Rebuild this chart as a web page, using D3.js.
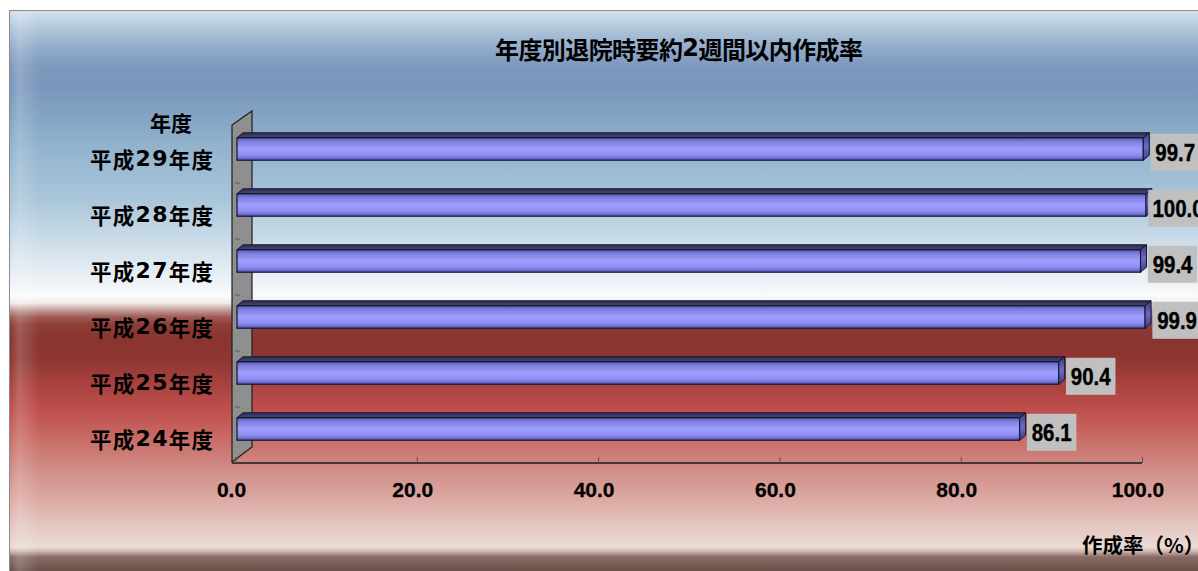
<!DOCTYPE html>
<html>
<head>
<meta charset="utf-8">
<script src="https://cdn.jsdelivr.net/npm/d3@7/dist/d3.min.js"></script>
<style>
html,body{margin:0;padding:0;background:#ffffff;}
svg{display:block;}
</style>
</head>
<body>
<svg id="chart" width="1198" height="571"></svg>
<script>
// ---- data ----
const categories = ["平成29年度","平成28年度","平成27年度","平成26年度","平成25年度","平成24年度"];
const values = [99.7, 100.0, 99.4, 99.9, 90.4, 86.1];
const xTicks = [0, 20, 40, 60, 80, 100];
const titleText = "年度別退院時要約2週間以内作成率";
const yAxisTitle = "年度";
const xAxisTitle = "作成率（%）";

const W = 1198, H = 571;
const svg = d3.select("#chart");
const defs = svg.append("defs");

// background gradient
const bgStops = [
  [10,"#d4e2ee"],[20,"#c0d4e4"],[33,"#a8c0d6"],[50,"#8fa9c9"],[67,"#7e98bc"],[87,"#7a96bc"],
  [117,"#84a4c4"],[150,"#94b4ce"],[200,"#aac6da"],[233,"#c5d8e6"],[265,"#e0eaf2"],[283,"#eef3f7"],
  [296,"#fafbfc"],[303,"#f2ecea"],[309,"#c8a8a4"],[317,"#a05a54"],[325,"#8e3c36"],[340,"#8a3430"],
  [360,"#8e3632"],[383,"#a8413e"],[410,"#bf4f4d"],[437,"#c86a64"],[467,"#d08a84"],[500,"#dcaaa4"],
  [523,"#e4c4be"],[540,"#e8d4ce"],[547,"#ecdcd6"],[551,"#d0bab4"],[557,"#8a6a64"],[571,"#6a5048"]
];
const bg = defs.append("linearGradient").attr("id","bg").attr("gradientUnits","userSpaceOnUse")
  .attr("x1",0).attr("y1",10).attr("x2",0).attr("y2",571);
bgStops.forEach(s => bg.append("stop").attr("offset",((s[0]-10)/561)).attr("stop-color",s[1]));

const edge = defs.append("linearGradient").attr("id","edge").attr("x1",0).attr("x2",1).attr("y1",0).attr("y2",0);
edge.append("stop").attr("offset",0).attr("stop-color","#ffffff").attr("stop-opacity",0.0);
edge.append("stop").attr("offset",0.3).attr("stop-color","#ffffff").attr("stop-opacity",0.18);
edge.append("stop").attr("offset",1).attr("stop-color","#ffffff").attr("stop-opacity",0);

const front = defs.append("linearGradient").attr("id","front").attr("x1",0).attr("x2",0).attr("y1",0).attr("y2",1);
[[0,"#5a5ab4"],[0.18,"#8080e0"],[0.5,"#a0a0ff"],[0.8,"#8a8af0"],[1,"#5454b0"]].forEach(s =>
  front.append("stop").attr("offset",s[0]).attr("stop-color",s[1]));
const topG = defs.append("linearGradient").attr("id","topface").attr("x1",0).attr("x2",0).attr("y1",0).attr("y2",1);
[[0,"#2e2e58"],[1,"#46467e"]].forEach(s => topG.append("stop").attr("offset",s[0]).attr("stop-color",s[1]));
const endG = defs.append("linearGradient").attr("id","endface").attr("x1",0).attr("x2",0).attr("y1",0).attr("y2",1);
[[0,"#3c3c80"],[0.5,"#6a6ac8"],[1,"#3c3c80"]].forEach(s => endG.append("stop").attr("offset",s[0]).attr("stop-color",s[1]));

svg.append("rect").attr("x",9.5).attr("y",10.5).attr("width",1200).attr("height",580)
  .attr("fill","url(#bg)").attr("stroke","#8a8a8a").attr("stroke-width",1);
svg.append("rect").attr("x",10).attr("y",11).attr("width",30).attr("height",560).attr("fill","url(#edge)");

// ---- scales ----
const yBand = d3.scaleBand().domain(categories).range([121, 457]).paddingInner(0.6).paddingOuter(0.3);
const xBar = d3.scaleLinear().domain([0, 100]).range([237, 1146]);
const xAxisScale = d3.scaleLinear().domain([0, 100]).range([235.5, 1142]);
const floorY = 463;
const wallDx = 20, wallDy = -15;
const dDx = 6, dDy = -5;

// side wall
const wallX = 232;
svg.append("path")
  .attr("d", `M${wallX},${floorY-1} L${wallX},125 L${wallX+wallDx},111 L${wallX+wallDx},${floorY-1+wallDy} Z`)
  .attr("fill","#8f8f8f").attr("stroke","#1e1e1e").attr("stroke-width",1.2);
const bounds = categories.map(c => yBand(c) - yBand.step()*yBand.paddingInner()/2);
svg.append("g").selectAll("line").data(bounds.slice(1)).join("line")
  .attr("x1", wallX+3).attr("x2", wallX+8)
  .attr("y1", d => d + 6).attr("y2", d => d + 6)
  .attr("stroke","#5a5a5a").attr("stroke-width",1);

// floor line
svg.append("line").attr("x1",wallX).attr("x2",xAxisScale(100)).attr("y1",floorY).attr("y2",floorY)
  .attr("stroke","#1a1a1a").attr("stroke-width",1.5);

// x axis (ticks + labels)
const axis = d3.axisBottom(xAxisScale).tickValues(xTicks).tickFormat(d3.format(".1f")).tickSize(-6).tickPadding(19);
const axG = svg.append("g").attr("transform",`translate(0,${floorY})`).call(axis);
axG.select(".domain").remove();
axG.selectAll(".tick line").attr("stroke","#555555").attr("stroke-width",1);
axG.selectAll(".tick text")
  .attr("font-family","'Liberation Sans', Arial, sans-serif").attr("font-weight","bold")
  .attr("font-size",21).attr("fill","#000").attr("dx",-4.5)
  .attr("stroke","#000").attr("stroke-width",0.3);

// bars
const bh = yBand.bandwidth();
const barG = svg.append("g").selectAll("g").data(categories.map((c,i)=>({c, v: values[i]}))).join("g");
barG.append("path")
  .attr("d", d => { const x0=xBar(0), x1=xBar(d.v), y0=yBand(d.c);
    return `M${x0},${y0} L${x0+dDx},${y0+dDy} L${x1+dDx},${y0+dDy} L${x1},${y0} Z`; })
  .attr("fill","url(#topface)").attr("stroke","#141428").attr("stroke-width",1);
barG.append("rect")
  .attr("x", xBar(0)).attr("y", d => yBand(d.c))
  .attr("width", d => xBar(d.v) - xBar(0)).attr("height", bh)
  .attr("fill","url(#front)").attr("stroke","#141428").attr("stroke-width",1.2);
barG.append("path")
  .attr("d", d => { const x1=xBar(d.v), y0=yBand(d.c);
    return `M${x1},${y0} L${x1+dDx},${y0+dDy} L${x1+dDx},${y0+bh+dDy} L${x1},${y0+bh} Z`; })
  .attr("fill","url(#endface)").attr("stroke","#141428").attr("stroke-width",1);

// data labels
const lblFS = 23;
const lblG = barG.append("g");
const lblText = lblG.append("text")
  .attr("x", d => xBar(d.v) + 32)
  .attr("y", d => yBand(d.c) + 14.5 + 0.36*lblFS)
  .attr("text-anchor","middle")
  .attr("font-family","'Liberation Sans', Arial, sans-serif").attr("font-weight","bold")
  .attr("font-size",lblFS).attr("fill","#000").attr("stroke","#000").attr("stroke-width",0.4)
  .text(d => d3.format(".1f")(d.v));
lblText.each(function(){
  const n = this.getComputedTextLength();
  d3.select(this).attr("textLength", n*0.89).attr("lengthAdjust","spacingAndGlyphs");
});
lblG.insert("rect","text")
  .attr("x", function(d){ const w = this.parentNode.querySelector("text").getComputedTextLength()*0.89 + 14; return xBar(d.v)+32 - w/2; })
  .attr("width", function(){ return this.parentNode.querySelector("text").getComputedTextLength()*0.89 + 14; })
  .attr("y", d => yBand(d.c) - 4).attr("height", 37)
  .attr("fill","#c0c0c0");

// helper: CJK text with wide digit runs
const cjk = "'Noto Sans CJK JP', 'Noto Sans CJK SC', sans-serif";
const digitFont = "'DejaVu Sans', sans-serif";
function mixedText(sel, str, digitSize){
  const parts = str.match(/\d+|\D+/g);
  parts.forEach(p => {
    const t = sel.append("tspan").text(p);
    if (/^\d+$/.test(p)) t.attr("font-family",digitFont).attr("font-size",digitSize);
  });
}

// category labels
svg.append("g").selectAll("text").data(categories).join("text")
  .attr("x", 213).attr("y", d => yBand(d) + bh/2 + 9)
  .attr("text-anchor","end").attr("dominant-baseline","central")
  .attr("font-family",cjk).attr("font-weight","bold").attr("font-size",21.5).attr("fill","#000")
  .attr("textLength",123).attr("lengthAdjust","spacing")
  .each(function(d){ mixedText(d3.select(this), d, 22); });

// axis titles
svg.append("text").attr("x",171).attr("y",122).attr("text-anchor","middle").attr("dominant-baseline","central")
  .attr("font-family",cjk).attr("font-weight","bold").attr("font-size",21).attr("fill","#000")
  .text(yAxisTitle);
svg.append("text").attr("x",1082).attr("y",544).attr("dominant-baseline","central")
  .attr("font-family",cjk).attr("font-weight","bold").attr("font-size",20.5).attr("fill","#000")
  .text(xAxisTitle);

// title
svg.append("text").attr("x",495).attr("y",48).attr("dominant-baseline","central")
  .attr("font-family",cjk).attr("font-weight","bold").attr("font-size",24).attr("fill","#000")
  .attr("textLength",368).attr("lengthAdjust","spacing")
  .call(s => mixedText(s, titleText, 24));
</script>
</body>
</html>
